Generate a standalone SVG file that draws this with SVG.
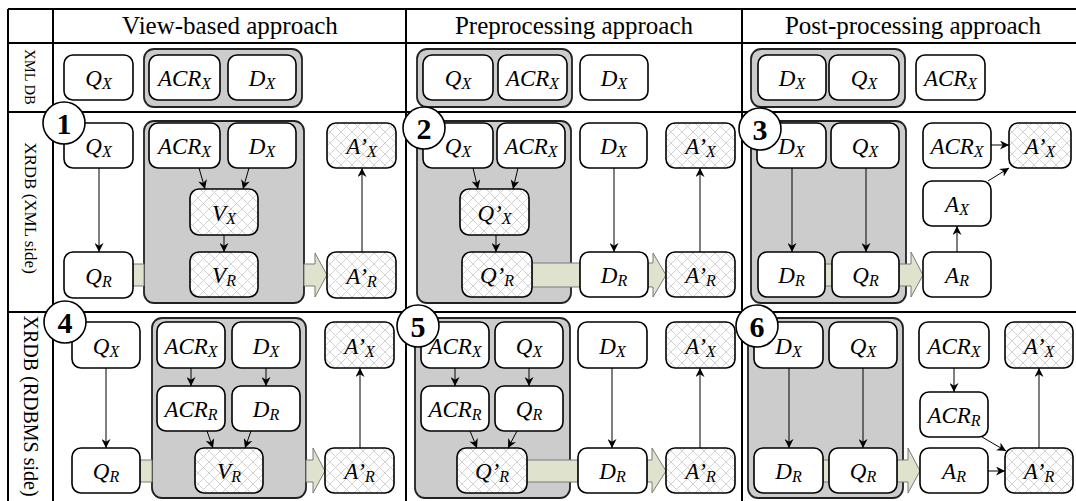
<svg xmlns="http://www.w3.org/2000/svg" width="1076" height="501" viewBox="0 0 1076 501">
  <style>
    .grid { stroke: #000; stroke-width: 2; fill: none; }
    .head { font-family: "Liberation Serif", "Times New Roman", serif; font-size: 25px; fill: #000; text-anchor: middle; }
    .side { font-family: "Liberation Serif", "Times New Roman", serif; fill: #000; text-anchor: middle; dominant-baseline: central; }
    .grp { fill: #cccccc; stroke: #222; stroke-width: 1.8; }
    .box { fill: #ffffff; stroke: #000; stroke-width: 1.6; }
    .hatch { fill: url(#xhatch); stroke: #000; stroke-width: 1.6; }
    .lbl { font-family: "Liberation Serif", "Times New Roman", serif; font-style: italic; font-size: 23px; fill: #000; text-anchor: middle; }
    .sub { font-size: 16px; }
    .edge { stroke: #000; stroke-width: 1; fill: none; marker-end: url(#tip); }
    .fat { fill: #dfe3cd; stroke: #7a7a7a; stroke-width: 1; }
    .num circle { fill: #fff; stroke: #000; stroke-width: 1.6; }
    .num text { font-family: "Liberation Serif", "Times New Roman", serif; font-weight: bold; font-size: 30px; text-anchor: middle; fill: #000; }
  </style>
  <defs>
    <pattern id="xhatch" patternUnits="userSpaceOnUse" width="11" height="11">
      <rect width="11" height="11" fill="#ffffff"/>
      <path d="M0,0 L11,11 M11,0 L0,11" stroke="#d2d2d2" stroke-width="1"/>
    </pattern>
    <marker id="tip" viewBox="0 0 10 10" refX="10" refY="5" markerWidth="9" markerHeight="9" markerUnits="userSpaceOnUse" orient="auto">
      <path d="M0,0 L10,5 L0,10 L3,5 z" fill="#000"/>
    </marker>
  </defs>

  <rect width="1076" height="501" fill="#ffffff"/>

  <!-- table grid -->
  <g id="grid" class="grid">
    <path d="M8,9 H1076 M8,43 H1076 M8,112 H1076 M8,312 H1076"/>
    <path d="M8,9 V501 M53,9 V501 M406,9 V501 M742,9 V501"/>
  </g>

  <!-- column and row headings -->
  <g id="headings">
    <text class="head" x="230" y="34">View-based approach</text>
    <text class="head" x="574" y="34">Preprocessing approach</text>
    <text class="head" x="913" y="34">Post-processing approach</text>
    <text class="side" font-size="14.5" transform="translate(30,77) rotate(90)">XML DB</text>
    <text class="side" font-size="17" transform="translate(30,208) rotate(90)">XRDB (XML side)</text>
    <text class="side" font-size="20" transform="translate(31,406) rotate(90)">XRDB (RDBMS side)</text>
  </g>

  <!-- grey containers -->
  <g id="containers">
    <rect id="v1g" class="grp" x="144" y="49" width="158" height="58" rx="10"/>
    <rect id="p1g" class="grp" x="417" y="49" width="155" height="58" rx="10"/>
    <rect id="o1g" class="grp" x="751" y="49" width="154" height="58" rx="10"/>
    <rect id="v2g" class="grp" x="144" y="121" width="160" height="182" rx="10"/>
    <rect id="p2g" class="grp" x="417" y="121" width="154" height="182" rx="10"/>
    <rect id="o2g" class="grp" x="751" y="121" width="155" height="182" rx="10"/>
    <rect id="v3g" class="grp" x="152" y="318" width="154" height="180" rx="10"/>
    <rect id="p3g" class="grp" x="415" y="318" width="155" height="180" rx="10"/>
    <rect id="o3g" class="grp" x="748" y="318" width="155" height="180" rx="10"/>
  </g>

  <!-- connectors -->
  <g id="connectors">
    <!-- wide transfer arrows -->
    <polygon class="fat" points="133,264 144,264 144,286 133,286"/>
    <polygon class="fat" points="304,264 315,264 315,253 327,275 315,297 315,286 304,286"/>
    <polygon class="fat" points="532,263 580,263 580,287 532,287"/>
    <polygon class="fat" points="648,263 653,263 653,253 666,275 653,297 653,287 648,287"/>
    <polygon class="fat" points="825,264 832,264 832,286 825,286"/>
    <polygon class="fat" points="899,264 911,264 911,252 923,275 911,297 911,286 899,286"/>
    <polygon class="fat" points="140,460 152,460 152,482 140,482"/>
    <polygon class="fat" points="306,460 313,460 313,448 325,471 313,493 313,482 306,482"/>
    <polygon class="fat" points="527,460 578,460 578,482 527,482"/>
    <polygon class="fat" points="647,460 652,460 652,448 666,471 652,493 652,482 647,482"/>
    <polygon class="fat" points="823,460 829,460 829,482 823,482"/>
    <polygon class="fat" points="897,460 908,460 908,448 920,471 908,493 908,482 897,482"/>

    <!-- view-based, XML side -->
    <line class="edge" x1="99" y1="168" x2="99" y2="252"/>
    <line class="edge" x1="199" y1="168" x2="205" y2="189"/>
    <line class="edge" x1="249" y1="168" x2="243" y2="189"/>
    <line class="edge" x1="224" y1="235" x2="224" y2="252"/>
    <line class="edge" x1="362" y1="252" x2="362" y2="168"/>
    <!-- preprocessing, XML side -->
    <line class="edge" x1="473" y1="168" x2="478" y2="189"/>
    <line class="edge" x1="518" y1="168" x2="513" y2="189"/>
    <line class="edge" x1="496" y1="235" x2="496" y2="252"/>
    <line class="edge" x1="614" y1="168" x2="614" y2="252"/>
    <line class="edge" x1="700" y1="252" x2="700" y2="168"/>
    <!-- post-processing, XML side -->
    <line class="edge" x1="792" y1="168" x2="792" y2="252"/>
    <line class="edge" x1="866" y1="168" x2="866" y2="252"/>
    <line class="edge" x1="957" y1="252" x2="957" y2="226"/>
    <line class="edge" x1="988" y1="181" x2="1009" y2="168"/>
    <line class="edge" x1="991" y1="145" x2="1009" y2="145"/>
    <!-- view-based, RDBMS side -->
    <line class="edge" x1="106" y1="368" x2="106" y2="448"/>
    <line class="edge" x1="191" y1="368" x2="191" y2="386"/>
    <line class="edge" x1="266" y1="368" x2="266" y2="386"/>
    <line class="edge" x1="207" y1="431" x2="213" y2="448"/>
    <line class="edge" x1="251" y1="431" x2="245" y2="448"/>
    <line class="edge" x1="360" y1="448" x2="360" y2="368"/>
    <!-- preprocessing, RDBMS side -->
    <line class="edge" x1="455" y1="368" x2="455" y2="386"/>
    <line class="edge" x1="529" y1="368" x2="529" y2="386"/>
    <line class="edge" x1="470" y1="431" x2="477" y2="448"/>
    <line class="edge" x1="517" y1="431" x2="508" y2="448"/>
    <line class="edge" x1="612" y1="368" x2="612" y2="448"/>
    <line class="edge" x1="700" y1="448" x2="700" y2="368"/>
    <!-- post-processing, RDBMS side -->
    <line class="edge" x1="789" y1="368" x2="789" y2="448"/>
    <line class="edge" x1="863" y1="368" x2="863" y2="448"/>
    <line class="edge" x1="954" y1="368" x2="954" y2="392"/>
    <line class="edge" x1="982" y1="437" x2="1006" y2="451"/>
    <line class="edge" x1="988" y1="471" x2="1005" y2="471"/>
    <line class="edge" x1="1039" y1="448" x2="1039" y2="368"/>
  </g>

  <!-- XML DB row -->
  <g id="v1_qx"><rect class="box" x="64" y="55" width="69" height="45" rx="9"/><text class="lbl" x="98.5" y="86">Q<tspan class="sub" dy="3">X</tspan></text></g>
  <g id="v1_acrx"><rect class="box" x="149" y="55" width="71" height="45" rx="9"/><text class="lbl" x="184.5" y="86">ACR<tspan class="sub" dy="3">X</tspan></text></g>
  <g id="v1_dx"><rect class="box" x="228" y="55" width="68" height="45" rx="9"/><text class="lbl" x="262" y="86">D<tspan class="sub" dy="3">X</tspan></text></g>
  <g id="p1_qx"><rect class="box" x="423" y="55" width="70" height="45" rx="9"/><text class="lbl" x="458" y="86">Q<tspan class="sub" dy="3">X</tspan></text></g>
  <g id="p1_acrx"><rect class="box" x="498" y="55" width="69" height="45" rx="9"/><text class="lbl" x="532.5" y="86">ACR<tspan class="sub" dy="3">X</tspan></text></g>
  <g id="p1_dx"><rect class="box" x="580" y="55" width="68" height="45" rx="9"/><text class="lbl" x="614" y="86">D<tspan class="sub" dy="3">X</tspan></text></g>
  <g id="o1_dx"><rect class="box" x="758" y="55" width="68" height="45" rx="9"/><text class="lbl" x="792" y="86">D<tspan class="sub" dy="3">X</tspan></text></g>
  <g id="o1_qx"><rect class="box" x="829" y="55" width="70" height="45" rx="9"/><text class="lbl" x="864" y="86">Q<tspan class="sub" dy="3">X</tspan></text></g>
  <g id="o1_acrx"><rect class="box" x="916" y="55" width="69" height="45" rx="9"/><text class="lbl" x="950.5" y="86">ACR<tspan class="sub" dy="3">X</tspan></text></g>

  <!-- XRDB (XML side): view-based -->
  <g id="v2_qx"><rect class="box" x="64" y="123" width="69" height="45" rx="9"/><text class="lbl" x="98.5" y="154">Q<tspan class="sub" dy="3">X</tspan></text></g>
  <g id="v2_acrx"><rect class="box" x="149" y="123" width="71" height="45" rx="9"/><text class="lbl" x="184.5" y="154">ACR<tspan class="sub" dy="3">X</tspan></text></g>
  <g id="v2_dx"><rect class="box" x="228" y="123" width="68" height="45" rx="9"/><text class="lbl" x="262" y="154">D<tspan class="sub" dy="3">X</tspan></text></g>
  <g id="v2_vx"><rect class="hatch" x="190" y="189" width="68" height="46" rx="9"/><text class="lbl" x="224" y="220.5">V<tspan class="sub" dy="3">X</tspan></text></g>
  <g id="v2_vr"><rect class="hatch" x="190" y="252" width="68" height="45" rx="9"/><text class="lbl" x="224" y="283">V<tspan class="sub" dy="3">R</tspan></text></g>
  <g id="v2_qr"><rect class="box" x="64" y="252" width="69" height="46" rx="9"/><text class="lbl" x="98.5" y="283.5">Q<tspan class="sub" dy="3">R</tspan></text></g>
  <g id="v2_apx"><rect class="hatch" x="327" y="123" width="69" height="45" rx="9"/><text class="lbl" x="361.5" y="154">A’<tspan class="sub" dy="3">X</tspan></text></g>
  <g id="v2_apr"><rect class="hatch" x="327" y="252" width="69" height="46" rx="9"/><text class="lbl" x="361.5" y="283.5">A’<tspan class="sub" dy="3">R</tspan></text></g>

  <!-- XRDB (XML side): preprocessing -->
  <g id="p2_qx"><rect class="box" x="423" y="123" width="70" height="45" rx="9"/><text class="lbl" x="458" y="154">Q<tspan class="sub" dy="3">X</tspan></text></g>
  <g id="p2_acrx"><rect class="box" x="497" y="123" width="68" height="45" rx="9"/><text class="lbl" x="531" y="154">ACR<tspan class="sub" dy="3">X</tspan></text></g>
  <g id="p2_dx"><rect class="box" x="580" y="123" width="67" height="45" rx="9"/><text class="lbl" x="613.5" y="154">D<tspan class="sub" dy="3">X</tspan></text></g>
  <g id="p2_apx"><rect class="hatch" x="666" y="123" width="69" height="45" rx="9"/><text class="lbl" x="700.5" y="154">A’<tspan class="sub" dy="3">X</tspan></text></g>
  <g id="p2_qpx"><rect class="hatch" x="460" y="189" width="69" height="46" rx="9"/><text class="lbl" x="494.5" y="220.5">Q’<tspan class="sub" dy="3">X</tspan></text></g>
  <g id="p2_qpr"><rect class="hatch" x="462" y="252" width="70" height="45" rx="9"/><text class="lbl" x="497" y="283">Q’<tspan class="sub" dy="3">R</tspan></text></g>
  <g id="p2_dr"><rect class="box" x="580" y="252" width="68" height="45" rx="9"/><text class="lbl" x="614" y="283">D<tspan class="sub" dy="3">R</tspan></text></g>
  <g id="p2_apr"><rect class="hatch" x="666" y="252" width="69" height="45" rx="9"/><text class="lbl" x="700.5" y="283">A’<tspan class="sub" dy="3">R</tspan></text></g>

  <!-- XRDB (XML side): post-processing -->
  <g id="o2_dx"><rect class="box" x="757" y="123" width="69" height="45" rx="9"/><text class="lbl" x="791.5" y="154">D<tspan class="sub" dy="3">X</tspan></text></g>
  <g id="o2_qx"><rect class="box" x="831" y="123" width="68" height="45" rx="9"/><text class="lbl" x="865" y="154">Q<tspan class="sub" dy="3">X</tspan></text></g>
  <g id="o2_dr"><rect class="box" x="758" y="252" width="67" height="45" rx="9"/><text class="lbl" x="791.5" y="283">D<tspan class="sub" dy="3">R</tspan></text></g>
  <g id="o2_qr"><rect class="box" x="832" y="252" width="67" height="45" rx="9"/><text class="lbl" x="865.5" y="283">Q<tspan class="sub" dy="3">R</tspan></text></g>
  <g id="o2_acrx"><rect class="box" x="923" y="123" width="68" height="45" rx="9"/><text class="lbl" x="957" y="154">ACR<tspan class="sub" dy="3">X</tspan></text></g>
  <g id="o2_apx"><rect class="hatch" x="1009" y="123" width="62" height="45" rx="9"/><text class="lbl" x="1040" y="154">A’<tspan class="sub" dy="3">X</tspan></text></g>
  <g id="o2_ax"><rect class="box" x="923" y="181" width="68" height="45" rx="9"/><text class="lbl" x="957" y="212">A<tspan class="sub" dy="3">X</tspan></text></g>
  <g id="o2_ar"><rect class="box" x="923" y="252" width="68" height="45" rx="9"/><text class="lbl" x="957" y="283">A<tspan class="sub" dy="3">R</tspan></text></g>

  <!-- XRDB (RDBMS side): view-based -->
  <g id="v3_qx"><rect class="box" x="72" y="322" width="68" height="46" rx="9"/><text class="lbl" x="106" y="353.5">Q<tspan class="sub" dy="3">X</tspan></text></g>
  <g id="v3_qr"><rect class="box" x="72" y="448" width="68" height="45" rx="9"/><text class="lbl" x="106" y="479">Q<tspan class="sub" dy="3">R</tspan></text></g>
  <g id="v3_acrx"><rect class="box" x="157" y="322" width="68" height="46" rx="9"/><text class="lbl" x="191" y="353.5">ACR<tspan class="sub" dy="3">X</tspan></text></g>
  <g id="v3_dx"><rect class="box" x="232" y="322" width="68" height="46" rx="9"/><text class="lbl" x="266" y="353.5">D<tspan class="sub" dy="3">X</tspan></text></g>
  <g id="v3_acrr"><rect class="box" x="157" y="386" width="68" height="45" rx="9"/><text class="lbl" x="191" y="417">ACR<tspan class="sub" dy="3">R</tspan></text></g>
  <g id="v3_dr"><rect class="box" x="232" y="386" width="68" height="45" rx="9"/><text class="lbl" x="266" y="417">D<tspan class="sub" dy="3">R</tspan></text></g>
  <g id="v3_vr"><rect class="hatch" x="195" y="448" width="68" height="45" rx="9"/><text class="lbl" x="229" y="479">V<tspan class="sub" dy="3">R</tspan></text></g>
  <g id="v3_apx"><rect class="hatch" x="325" y="322" width="69" height="46" rx="9"/><text class="lbl" x="359.5" y="353.5">A’<tspan class="sub" dy="3">X</tspan></text></g>
  <g id="v3_apr"><rect class="hatch" x="325" y="448" width="69" height="45" rx="9"/><text class="lbl" x="359.5" y="479">A’<tspan class="sub" dy="3">R</tspan></text></g>

  <!-- XRDB (RDBMS side): preprocessing -->
  <g id="p3_acrx"><rect class="box" x="421" y="322" width="68" height="46" rx="9"/><text class="lbl" x="455" y="353.5">ACR<tspan class="sub" dy="3">X</tspan></text></g>
  <g id="p3_qx"><rect class="box" x="495" y="322" width="68" height="46" rx="9"/><text class="lbl" x="529" y="353.5">Q<tspan class="sub" dy="3">X</tspan></text></g>
  <g id="p3_acrr"><rect class="box" x="421" y="386" width="68" height="45" rx="9"/><text class="lbl" x="455" y="417">ACR<tspan class="sub" dy="3">R</tspan></text></g>
  <g id="p3_qr"><rect class="box" x="495" y="386" width="68" height="45" rx="9"/><text class="lbl" x="529" y="417">Q<tspan class="sub" dy="3">R</tspan></text></g>
  <g id="p3_qpr"><rect class="hatch" x="457" y="448" width="70" height="45" rx="9"/><text class="lbl" x="492" y="479">Q’<tspan class="sub" dy="3">R</tspan></text></g>
  <g id="p3_dx"><rect class="box" x="578" y="322" width="69" height="46" rx="9"/><text class="lbl" x="612.5" y="353.5">D<tspan class="sub" dy="3">X</tspan></text></g>
  <g id="p3_dr"><rect class="box" x="578" y="448" width="69" height="45" rx="9"/><text class="lbl" x="612.5" y="479">D<tspan class="sub" dy="3">R</tspan></text></g>
  <g id="p3_apx"><rect class="hatch" x="666" y="322" width="69" height="46" rx="9"/><text class="lbl" x="700.5" y="353.5">A’<tspan class="sub" dy="3">X</tspan></text></g>
  <g id="p3_apr"><rect class="hatch" x="666" y="448" width="69" height="45" rx="9"/><text class="lbl" x="700.5" y="479">A’<tspan class="sub" dy="3">R</tspan></text></g>

  <!-- XRDB (RDBMS side): post-processing -->
  <g id="o3_dx"><rect class="box" x="754" y="322" width="69" height="46" rx="9"/><text class="lbl" x="788.5" y="353.5">D<tspan class="sub" dy="3">X</tspan></text></g>
  <g id="o3_qx"><rect class="box" x="829" y="322" width="68" height="46" rx="9"/><text class="lbl" x="863" y="353.5">Q<tspan class="sub" dy="3">X</tspan></text></g>
  <g id="o3_dr"><rect class="box" x="754" y="448" width="69" height="45" rx="9"/><text class="lbl" x="788.5" y="479">D<tspan class="sub" dy="3">R</tspan></text></g>
  <g id="o3_qr"><rect class="box" x="829" y="448" width="68" height="45" rx="9"/><text class="lbl" x="863" y="479">Q<tspan class="sub" dy="3">R</tspan></text></g>
  <g id="o3_acrx"><rect class="box" x="919" y="322" width="70" height="46" rx="9"/><text class="lbl" x="954" y="353.5">ACR<tspan class="sub" dy="3">X</tspan></text></g>
  <g id="o3_acrr"><rect class="box" x="920" y="392" width="68" height="45" rx="9"/><text class="lbl" x="954" y="423">ACR<tspan class="sub" dy="3">R</tspan></text></g>
  <g id="o3_ar"><rect class="box" x="920" y="448" width="68" height="45" rx="9"/><text class="lbl" x="954" y="479">A<tspan class="sub" dy="3">R</tspan></text></g>
  <g id="o3_apx"><rect class="hatch" x="1005" y="322" width="68" height="46" rx="9"/><text class="lbl" x="1039" y="353.5">A’<tspan class="sub" dy="3">X</tspan></text></g>
  <g id="o3_apr"><rect class="hatch" x="1005" y="448" width="68" height="45" rx="9"/><text class="lbl" x="1039" y="479">A’<tspan class="sub" dy="3">R</tspan></text></g>

  <!-- scenario numbers -->
  <g id="n1" class="num"><circle cx="64" cy="123" r="21"/><text x="64" y="134">1</text></g>
  <g id="n2" class="num"><circle cx="424" cy="128" r="21"/><text x="424" y="139">2</text></g>
  <g id="n3" class="num"><circle cx="760" cy="129" r="21"/><text x="760" y="140">3</text></g>
  <g id="n4" class="num"><circle cx="65" cy="322" r="21"/><text x="65" y="333">4</text></g>
  <g id="n5" class="num"><circle cx="418" cy="326" r="21"/><text x="418" y="337">5</text></g>
  <g id="n6" class="num"><circle cx="757" cy="326" r="21"/><text x="757" y="337">6</text></g>
</svg>
